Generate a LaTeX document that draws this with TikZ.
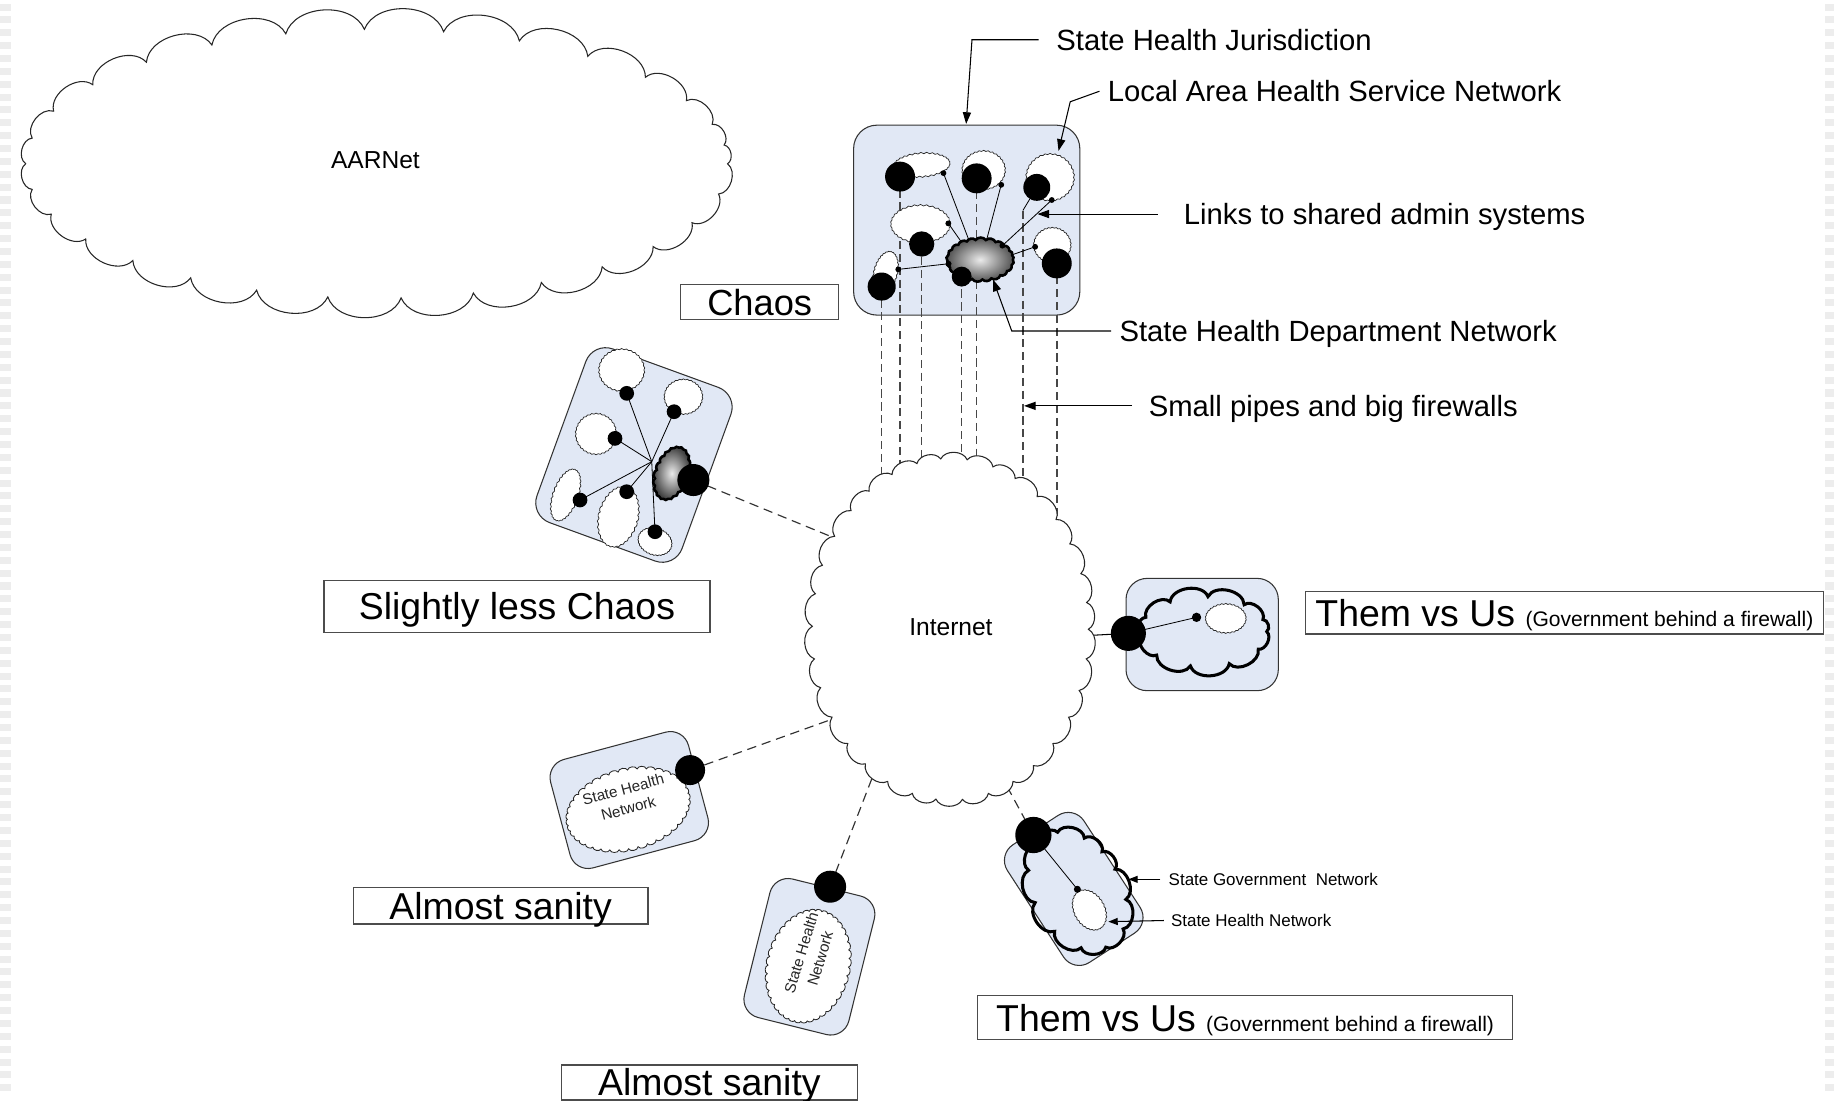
\documentclass[tikz,border=0pt]{standalone}
\usepackage{fontspec}
\setmainfont{Liberation Sans}
\usetikzlibrary{arrows.meta}
\definecolor{boxblue}{RGB}{225,232,245}

% cloud outline: puffs between points of a (rotated) ellipse
% #1 path options, #2 centre, #3 rotation, #4 x radius, #5 y radius, #6 puff end angles
\newcommand\puffcloud[6]{%
  \begin{scope}[shift={#2},rotate=#3]
    \path[#1] (0:#4 and #5) \foreach \a in {#6}{ to (\a:#4 and #5) } -- cycle;
  \end{scope}}
% small white cloud with a fine, fuzzy outline
\newcommand\fuzzcloud[5][]{%
  \puffcloud{fuzzy,#1}{#2}{#3}{#4}{#5}{12,24,...,360}}

\begin{document}
\begin{tikzpicture}[x=1pt,y=-1pt,
  puff/.style={every to/.style={bend left=#1}},
  fuzzy/.style={draw=black!85,fill=white,line width=0.6pt,puff=60},
  heavy/.style={draw=black,line width=2.6pt,puff=75},
  grp/.style={draw=black!80,fill=boxblue,line width=0.9pt,inner sep=0pt},
  dot/.style={circle,fill=black,inner sep=0pt,minimum size=#1},
  wire/.style={line width=0.7pt},
  pipe/.style={line width=1.3pt,draw=black!72,dash pattern=on 7pt off 4pt},
  link/.style={line width=1pt,draw=black!80,dash pattern=on 8pt off 5pt},
  callout/.style={line width=0.9pt,-{Triangle[length=10pt,width=7pt]}},
  tag/.style={draw=black!70,line width=1.1pt,inner sep=0pt,font=\fontsize{32}{38}\selectfont,text height=23pt,text depth=0pt},
  lbl/.style={font=\fontsize{25}{30}\selectfont,anchor=west,inner ysep=0pt,text height=18pt,text depth=0pt},
  slbl/.style={font=\fontsize{14.5}{17}\selectfont,anchor=west,inner ysep=0pt,text height=10.4pt,text depth=0pt},
  cloudtext/.style={font=\fontsize{21}{25}\selectfont},
  nettext/.style={font=\fontsize{13}{17}\selectfont,text=black!85,align=center,inner sep=0pt}]

\useasboundingbox (0,0) rectangle (1568,941);
\fill[white] (0,0) rectangle (1568,941);

% faint page edge stripes
\foreach \yy in {3,14,...,936} {
  \fill[black!7] (0,\yy) rectangle (9,\yy+6);
  \fill[black!7] (1560,\yy) rectangle (1568,\yy+6);
}

% ---------- AARNet ----------
\puffcloud{draw=black!85,fill=white,line width=0.9pt,puff=70}{(322,140)}{0}{300}{115}
  {13,26,38,50,62,74,86,98,110,122,134,146,158,169,180,191,203,216,229,242,255,268,281,294,307,320,332,343,352,360}
\node[cloudtext] (aarnet) at (321,137) {AARNet};

% ---------- anchor points ----------
\coordinate (inet) at (812.5,538);
\coordinate (pend) at (0,470);
% state health jurisdiction (chaos)
\coordinate (pA1) at (769.5,151);  \coordinate (qA1) at (806.6,148);  \coordinate (hA1) at (829,207);
\coordinate (pA2) at (835,152.5);  \coordinate (qA2) at (856,158);    \coordinate (hA2) at (843,207);
\coordinate (pA3) at (886.4,160.2);\coordinate (qA3) at (899.2,171);  \coordinate (hA3) at (857,210);
\coordinate (pA4) at (788,208.6);  \coordinate (qA4) at (810.8,191);  \coordinate (hA4) at (822,207);
\coordinate (pA5) at (753.8,245);  \coordinate (qA5) at (768,230.3);  \coordinate (hA5) at (811,225.5);
\coordinate (pA6) at (903.5,225.2);\coordinate (qA6) at (885,211);    \coordinate (hA6) at (862,219);
\coordinate (pA7) at (822.2,236.5);
\coordinate (kink) at (874.5,180);
% slightly less chaos
\coordinate (pB0) at (592.8,410.4); \coordinate (hB) at (557.2,394.7);
\coordinate (pB1) at (535.8,336.3); \coordinate (pB2) at (576.3,352);
\coordinate (pB3) at (525.8,374.8); \coordinate (pB4) at (495.9,427.5);
\coordinate (pB5) at (535.8,420.4); \coordinate (pB6) at (560,454.6);
% almost sanity, them vs us
\coordinate (pC) at (590,658.4);
\coordinate (pD) at (709.7,758.1);
\coordinate (pE) at (883.5,713.9); \coordinate (sE) at (921.1,760.3);
\coordinate (pF) at (964.7,541.5); \coordinate (sF) at (1023,527.8);
% ends of the links on the Internet cloud
\coordinate (eB) at (716,461);
\coordinate (eC) at (715,613.6);
\coordinate (eD) at (750.3,653);
\coordinate (eE) at (857,665);
\coordinate (eF) at (927,543.5);

% ---------- state health jurisdiction box ----------
\node[grp,rounded corners=20pt,minimum width=193.4pt,minimum height=162.4pt] (chaosbox) at (826.5,188.2) {};

% small pipes down to the Internet
\foreach \p in {pA1,pA2,pA4,pA5,pA6,pA7} \draw[pipe] (\p) -- (\p |- pend);
\draw[pipe] (kink) -- (kink |- pend);

% links from the other networks
\draw[link] (pB0) -- (eB);
\draw[link] (pC) -- (eC);
\draw[link] (pD) -- (eD);
\draw[link] (pE) -- (eE);
\draw[wire,line width=0.9pt] (pF) -- (eF);

% ---------- Internet ----------
\puffcloud{draw=black!85,fill=white,line width=0.9pt,puff=65}{(inet)}{0}{118}{146}
  {10,21,31,42,53,63,74,85,96,106,117,128,138,149,160,170,181,192,202,213,224,234,245,256,266,277,288,298,309,320,330,341,351,360}
\node[cloudtext] (internet) at (813,536) {Internet};

% ---------- chaos: local area health service networks ----------
\fuzzcloud{(788,141)}{4}{24}{9.5}
\fuzzcloud{(841,145.4)}{0}{18}{16}
\fuzzcloud{(897.8,151.6)}{0}{20}{19.5}
\fuzzcloud{(787,191.5)}{0}{25}{15.5}
\fuzzcloud{(757.2,232.8)}{-15}{9.5}{18}
\fuzzcloud{(899.7,209.5)}{0}{15.5}{14.5}
\foreach \i in {1,...,6} \draw[wire] (qA\i) -- (hA\i);
\draw[wire] (pA3) -- (kink);
% state health department network
\puffcloud{draw=black,line width=2.2pt,inner color=black!8,outer color=black!70,puff=55}{(838,222)}{0}{28}{17}
  {16,35,52,70,86,104,121,140,157,176,194,211,228,246,262,280,298,316,333,348,360}
\node[dot=25.6pt] (dA1) at (pA1) {};
\node[dot=25.6pt] (dA2) at (pA2) {};
\node[dot=23pt]   (dA3) at (pA3) {};
\node[dot=21.6pt] (dA4) at (pA4) {};
\node[dot=24pt]   (dA5) at (pA5) {};
\node[dot=25.6pt] (dA6) at (pA6) {};
\node[dot=17pt]   (dA7) at (pA7) {};
\foreach \i in {1,...,6} \node[dot=5pt] (sA\i) at (qA\i) {};
\node[dot=5pt] (sH5) at (hA5) {};
\node[dot=5pt] (sH3) at (hA3) {};

% ---------- slightly less chaos ----------
\node[grp,rounded corners=18pt,minimum width=132pt,minimum height=158pt,rotate=-20] (slcbox) at (542,389) {};
\fuzzcloud{(531.5,316.4)}{0}{19}{17.5}
\fuzzcloud{(584.3,339.2)}{0}{16}{14.5}
\fuzzcloud{(509.6,371)}{0}{17}{17}
\fuzzcloud{(483.6,423.2)}{-20}{10}{23}
\fuzzcloud{(528.7,441.8)}{-15}{16}{26}
\fuzzcloud{(560,463)}{-20}{14.5}{11}
\foreach \i in {1,...,6} \draw[wire] (hB) -- (pB\i);
\puffcloud{draw=black,line width=2.2pt,inner color=black!8,outer color=black!75,puff=55}{(574.3,404.7)}{-20}{13}{23}
  {16,35,52,70,86,104,121,140,157,176,194,211,228,246,262,280,298,316,333,348,360}
\foreach \i in {1,...,6} \node[dot=12.6pt] (dB\i) at (pB\i) {};
\node[dot=27.4pt] (dB0) at (pB0) {};

% ---------- almost sanity (1) ----------
\node[grp,rounded corners=16pt,minimum width=122pt,minimum height=96pt,rotate=15] (as1box) at (538,684) {};
\puffcloud{fuzzy,puff=75,line width=0.7pt}{(537,692)}{15}{53}{33}{9,18,...,360}
\node[nettext,rotate=15] (as1net) at (535,683) {State Health\\Network};
\node[dot=25.6pt] (dC) at (pC) {};

% ---------- almost sanity (2) ----------
\node[grp,rounded corners=16pt,minimum width=92pt,minimum height=122pt,rotate=-14] (as2box) at (692,818) {};
\puffcloud{fuzzy,puff=75,line width=0.7pt}{(691,826)}{-14}{34}{48}{9,18,...,360}
\node[nettext,rotate=73] (as2net) at (693,817) {State Health\\Network};
\node[dot=27.4pt] (dD) at (pD) {};

% ---------- them vs us (right) ----------
\node[grp,rounded corners=18pt,minimum width=130.2pt,minimum height=96pt] (tvu1box) at (1027.8,542.5) {};
\puffcloud{heavy}{(1029,540)}{0}{54}{30}{30,66,102,138,172,204,238,274,310,340,360}
\fuzzcloud{(1048,528.7)}{0}{17}{12}
\draw[wire] (pF) -- (sF);
\node[dot=30pt] (dF) at (pF) {};
\node[dot=8pt] (dsF) at (sF) {};

% ---------- them vs us (bottom) ----------
\node[grp,rounded corners=16pt,minimum width=78pt,minimum height=120pt,rotate=33] (tvu2box) at (918,760) {};
\puffcloud{heavy}{(921.3,761.6)}{30}{37}{54}{30,62,95,126,158,190,222,254,286,318,340,360}
\fuzzcloud{(931.4,778)}{30}{12.5}{18}
\draw[wire] (pE) -- (sE);
\node[dot=31pt] (dE) at (pE) {};
\node[dot=6pt] (dsE) at (sE) {};

% ---------- boxed captions ----------
\node[tag,font=\fontsize{31}{36}\selectfont,minimum width=135pt,minimum height=30pt] (tchaos) at (649.5,258) {Chaos};
\node[tag,minimum width=330pt,minimum height=45pt] (tslc) at (442,518.5) {Slightly less Chaos};
\node[tag,minimum width=252pt,minimum height=31pt] (tas1) at (428,774.5) {Almost sanity};
\node[tag,minimum width=253pt,minimum height=30pt] (tas2) at (606.5,925.5) {Almost sanity};
\node[tag,minimum width=443pt,minimum height=36pt] (ttvu1) at (1337.5,524)
  {Them vs Us {\fontsize{18}{20}\selectfont (Government behind a firewall)}};
\node[tag,minimum width=457pt,minimum height=38pt] (ttvu2) at (1064.5,870)
  {Them vs Us {\fontsize{18}{20}\selectfont (Government behind a firewall)}};

% ---------- callouts ----------
\node[lbl,inner xsep=15pt] (lshj) at (888,34) {State Health Jurisdiction};
\coordinate (tshj) at (826,106);
\draw[callout] (lshj.west) -- (831,34) -- (tshj);

\node[lbl,inner xsep=7pt] (llahs) at (940,78) {Local Area Health Service Network};
\coordinate (tlahs) at (905,129);
\draw[callout] (llahs.west) -- (915,87) -- (tlahs);

\node[lbl,inner xsep=22pt] (llinks) at (990,183) {Links to shared admin systems};
\coordinate (tlinks) at (887,183);
\draw[callout] (llinks.west) -- (tlinks);

\node[lbl,inner xsep=7pt] (lshdn) at (950,283) {State Health Department Network};
\coordinate (tshdn) at (849,239);
\draw[callout] (lshdn.west) -- (865,283) -- (tshdn);

\node[lbl,inner xsep=14pt] (lpipes) at (968,347) {Small pipes and big firewalls};
\coordinate (tpipes) at (875.5,347);
\draw[callout] (lpipes.west) -- (tpipes);

\node[slbl,inner xsep=7pt] (lsgn) at (992,751.8) {State Government\ \ Network};
\coordinate (tsgn) at (964.7,751.8);
\draw[callout,-{Triangle[length=8pt,width=6pt]}] (lsgn.west) -- (tsgn);

\node[slbl,inner xsep=6pt] (lshn) at (995,787) {State Health Network};
\coordinate (tshn) at (947.6,788);
\draw[callout,-{Triangle[length=8pt,width=6pt]}] (lshn.west) -- (tshn);

\end{tikzpicture}
\end{document}
